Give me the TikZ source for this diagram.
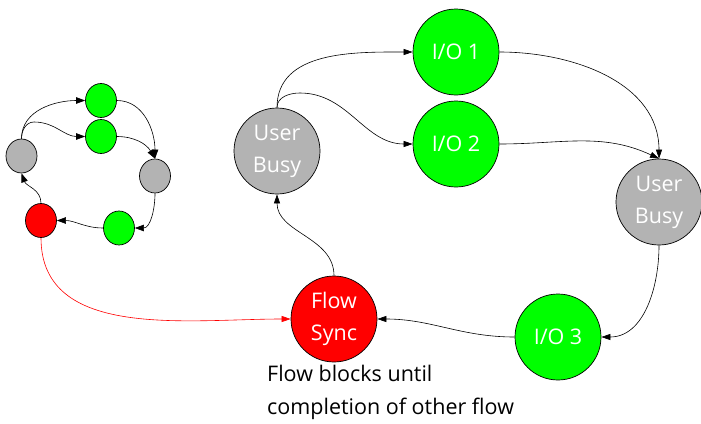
\documentclass[tikz,border=0pt]{standalone}
\usepackage{fontspec}
\setmainfont{Open Sans}
\usetikzlibrary{arrows.meta,shapes.geometric}
\definecolor{busygray}{RGB}{179,179,179}
\definecolor{iogreen}{RGB}{0,255,0}
\definecolor{syncred}{RGB}{255,0,0}
\begin{document}
\begin{tikzpicture}[x=1pt,y=1pt,
  big/.style={circle,draw=black,line width=0.7pt,minimum size=86pt,inner sep=0pt,
    text=white,font=\fontsize{21.5}{32}\selectfont,align=center},
  small/.style={ellipse,draw=black,line width=0.7pt,minimum width=31pt,minimum height=34pt,inner sep=0pt},
  busy/.style={fill=busygray},
  io/.style={fill=iogreen},
  sync/.style={fill=syncred},
  link/.style={draw=black,line width=0.6pt,-{Stealth[length=9pt,width=6pt,inset=0pt]}},
  smalllink/.style={draw=black,line width=0.6pt,-{Stealth[length=9pt,width=6.5pt,inset=0pt]}},
  synclink/.style={draw=red,line width=0.6pt,-{Stealth[length=9pt,width=6pt,inset=0pt]}}]
\useasboundingbox (0,0) rectangle (701,-423);

% small overview flow
\node[small,io]   (sg1) at (101,-100.5) {};
\node[small,io]   (sg2) at (101,-136.5) {};
\node[small,busy] (sgl) at (21.5,-156) {};
\node[small,busy] (sgr) at (155,-176) {};
\node[small,sync] (sr)  at (41,-220.5) {};
\node[small,io]   (sgb) at (119,-228) {};
\coordinate (sw) at (34,-122);

\draw[smalllink] (sgl.north) to[out=90,in=180] (sg1.west);
\draw[smalllink] (sgl.north) to[out=90,in=180] (sw) to[out=0,in=180] (sg2.west);
\draw[smalllink] (sg1.east) to[out=0,in=90] (sgr.north);
\draw[smalllink] (sg2.east) to[out=0,in=120] (sgr.north);
\draw[smalllink] (sgr.south) to[out=-90,in=0] (sgb.east);
\draw[smalllink] (sgb.west) to[out=180,in=0] (sr.east);
\draw[smalllink] (sr.north) to[out=90,in=-70] (sgl.south);

% detailed flow
\node[big,busy] (ub1) at (277,-151) {User\\Busy};
\node[big,io]   (io1) at (456,-52)  {I/O 1};
\node[big,io]   (io2) at (456,-144) {I/O 2};
\node[big,busy] (ub2) at (659,-202) {User\\Busy};
\node[big,sync] (fs)  at (334,-319) {Flow\\Sync};
\node[big,io]   (io3) at (558,-337) {I/O 3};
\coordinate (bw) at (300,-93);

\draw[link] (ub1.north) to[out=90,in=180] (io1.west);
\draw[link] (ub1.north) to[out=90,in=180] (bw) to[out=0,in=180] (io2.west);
\draw[link] (io1.east) to[out=0,in=90] (ub2.north);
\draw[link] (io2.east) to[out=0,in=155] (ub2.north);
\draw[link] (ub2.south) to[out=-90,in=0] (io3.east);
\draw[link] (io3.west) to[out=180,in=0] (fs.east);
\draw[link] (fs.north) to[out=90,in=-90] (ub1.south);
\draw[synclink] (sr.south) to[out=-90,in=180] (fs.west);

\node[anchor=north west,inner sep=0pt,align=left,font=\fontsize{21.5}{33}\selectfont]
  (note) at (267,-365) {Flow blocks until\\completion of other flow};
\end{tikzpicture}
\end{document}
